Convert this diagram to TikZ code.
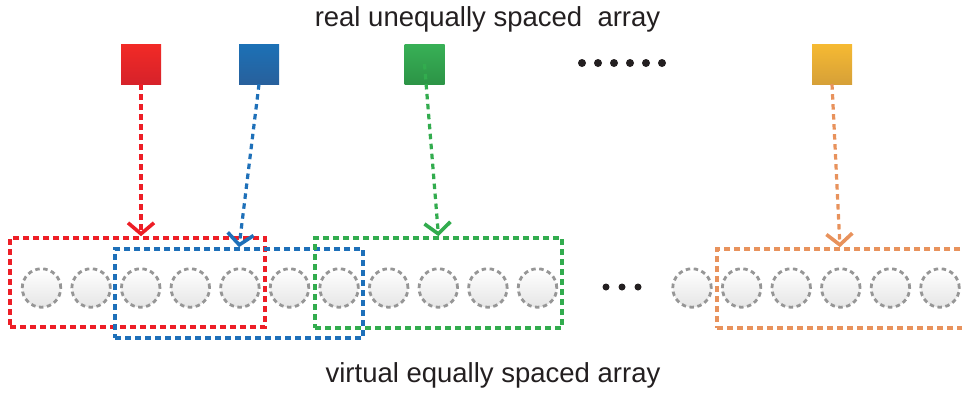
\documentclass[tikz,border=0pt]{standalone}
\usepackage{fontspec}
\setmainfont{Liberation Sans}
\usetikzlibrary{arrows.meta}

\definecolor{lred}{RGB}{237,30,38}
\definecolor{lblue}{RGB}{30,112,185}
\definecolor{lgreen}{RGB}{50,172,78}
\definecolor{lorange}{RGB}{232,146,92}
\definecolor{cellgray}{RGB}{150,150,150}
\definecolor{dotc}{RGB}{35,31,32}

\tikzset{
	cell/.style={circle,draw=cellgray,line width=2.8pt,dash pattern=on 4.5pt off 3.5pt,minimum size=38.5pt,inner sep=0pt,top color=white,bottom color=gray!20},
	elem/.style={minimum size=40pt,inner sep=0pt},
	win/.style={line width=3.6pt,dash pattern=on 6pt off 4pt,minimum height=89pt,inner sep=0pt},
	map/.style={line width=3.2pt,dash pattern=on 5.5pt off 4.5pt,-{Straight Barb[length=11pt,width=26pt,line width=3.6pt]}},
	lbl/.style={font=\fontsize{27.5pt}{33pt}\selectfont,text=dotc,anchor=base}
}

\begin{document}
\begin{tikzpicture}[x=1pt,y=-1pt]

%	\draw[step=50pt,gray,very thin] (0,0) grid (962,394);
	\clip (0,0) rectangle (962,394);

	\node[lbl] (real) at (487.5,26) {real unequally spaced\ \ array};
	\node[lbl] (virt) at (493,382) {virtual equally spaced array};

	\node[elem,top color={rgb,255:red,242;green,42;blue,38},bottom color={rgb,255:red,214;green,34;blue,42}] (redsq) at (141,64) {};
	\node[elem,top color={rgb,255:red,28;green,113;blue,182},bottom color={rgb,255:red,40;green,96;blue,156}] (blusq) at (259,64) {};
	\node[elem,top color={rgb,255:red,56;green,176;blue,86},bottom color={rgb,255:red,44;green,148;blue,70}] (grnsq) at (424.5,64) {};
	\node[elem,top color={rgb,255:red,246;green,186;blue,50},bottom color={rgb,255:red,214;green,160;blue,56}] (orgsq) at (832,64) {};
	\foreach \i in {0,...,5} \fill[dotc] (582+16*\i,63) circle (4pt);

	\foreach \i in {0,...,10} \node[cell] (c\i) at (41.5+49.6*\i,288) {};
	\foreach \j in {0,...,5} \node[cell] (d\j) at (692+49.6*\j,288) {};
	\foreach \x in {606,622,638} \fill[dotc] (\x,287) circle (3.5pt);

	\node[win,draw=lred,minimum width=255pt] (redwin) at (137.5,282.5) {};
	\node[win,draw=lblue,minimum width=248pt] (bluwin) at (239,293.5) {};
	\node[win,draw=lgreen,minimum width=247pt,minimum height=90pt] (grnwin) at (438.5,283) {};
	\node[win,draw=lorange,minimum width=252pt,minimum height=79pt] (orgwin) at (843,288.5) {};

	\draw[map,lred] (redsq.south) -- (redsq.south |- redwin.north);
	\draw[map,lblue] (blusq.south) -- (bluwin.north);
	\draw[map,lgreen] (grnsq.center) -- (grnwin.north);
	\draw[map,lorange] (orgsq.south) -- (840,0 |- orgwin.north);

\end{tikzpicture}
\end{document}
